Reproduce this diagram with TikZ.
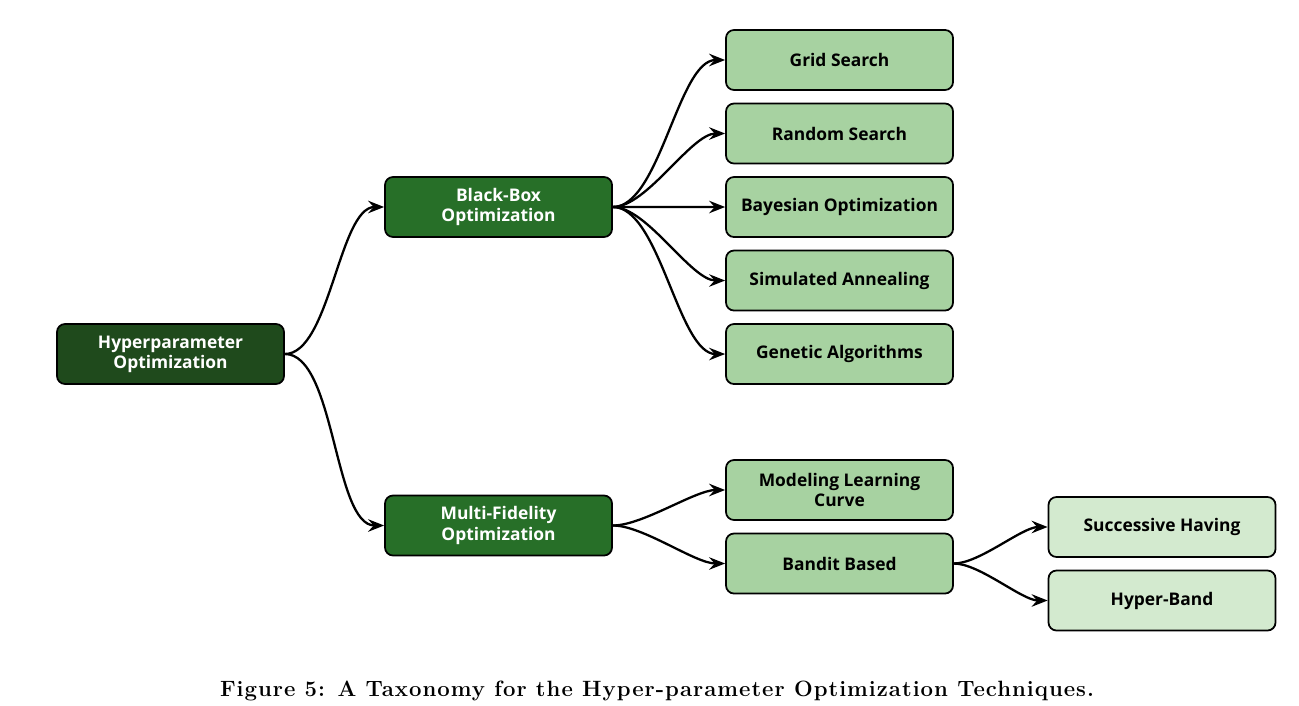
\documentclass[tikz,border=0pt]{standalone}
\usepackage{fontspec}
\setsansfont{Open Sans}
\newfontfamily\capfnt{Latin Modern Roman}[LetterSpace=4.5]
\usepackage{xcolor}
\usetikzlibrary{positioning,arrows.meta}
\definecolor{rootgreen}{HTML}{1F4A1C}
\definecolor{midgreen}{HTML}{276F28}
\definecolor{leafgreen}{HTML}{A7D2A1}
\definecolor{subgreen}{HTML}{D3EACF}

\begin{document}
\begin{tikzpicture}[
  font=\sffamily\bfseries\fontsize{9.9}{11.5}\selectfont,
  box/.style={draw=black,line width=1pt,rounded corners=1.6mm,minimum width=4.54cm,minimum height=1.2cm,align=center,inner sep=2pt},
  rootbox/.style={box,fill=rootgreen,text=white},
  catbox/.style={box,fill=midgreen,text=white},
  leafbox/.style={box,fill=leafgreen},
  subbox/.style={box,fill=subgreen},
  link/.style={line width=1.3pt,-{Stealth[length=3.2mm,width=2.5mm,inset=1.1mm]}},
  node distance=0.235cm,
]
\useasboundingbox (0,0) rectangle (25.98,-14.12);
\node[rootbox] (hpo) at (3.41,-7.08) {Hyperparameter\\Optimization};
\node[catbox] (bbo) at (9.97,-4.14) {Black-Box\\Optimization};
\node[catbox] (mfo) at (9.97,-10.51) {Multi-Fidelity\\Optimization};
% black-box methods
\node[leafbox] (grid) at (16.79,-1.2) {Grid Search};
\node[leafbox,below=of grid] (rand) {Random Search};
\node[leafbox,below=of rand] (bayes) {Bayesian Optimization};
\node[leafbox,below=of bayes] (anneal) {Simulated Annealing};
\node[leafbox,below=of anneal] (genetic) {Genetic Algorithms};
% multi-fidelity methods
\node[leafbox] (curve) at (16.79,-9.8) {Modeling Learning\\Curve};
\node[leafbox,below=of curve] (bandit) {Bandit Based};
\node[subbox] (succ) at (23.24,-10.54) {Successive Having};
\node[subbox,below=of succ] (hband) {Hyper-Band};
\node[font=\capfnt\bfseries\fontsize{12.6}{14}\selectfont] (cap) at (13.14,-13.82)
  {Figure 5: A Taxonomy for the Hyper-parameter Optimization Techniques.};
\foreach \a/\b in {hpo/bbo,hpo/mfo,bbo/grid,bbo/rand,bbo/bayes,bbo/anneal,bbo/genetic,mfo/curve,mfo/bandit,bandit/succ,bandit/hband}
  \draw[link] (\a.east) to[out=0,in=180,looseness=0.65] (\b.west);
\end{tikzpicture}
\end{document}
